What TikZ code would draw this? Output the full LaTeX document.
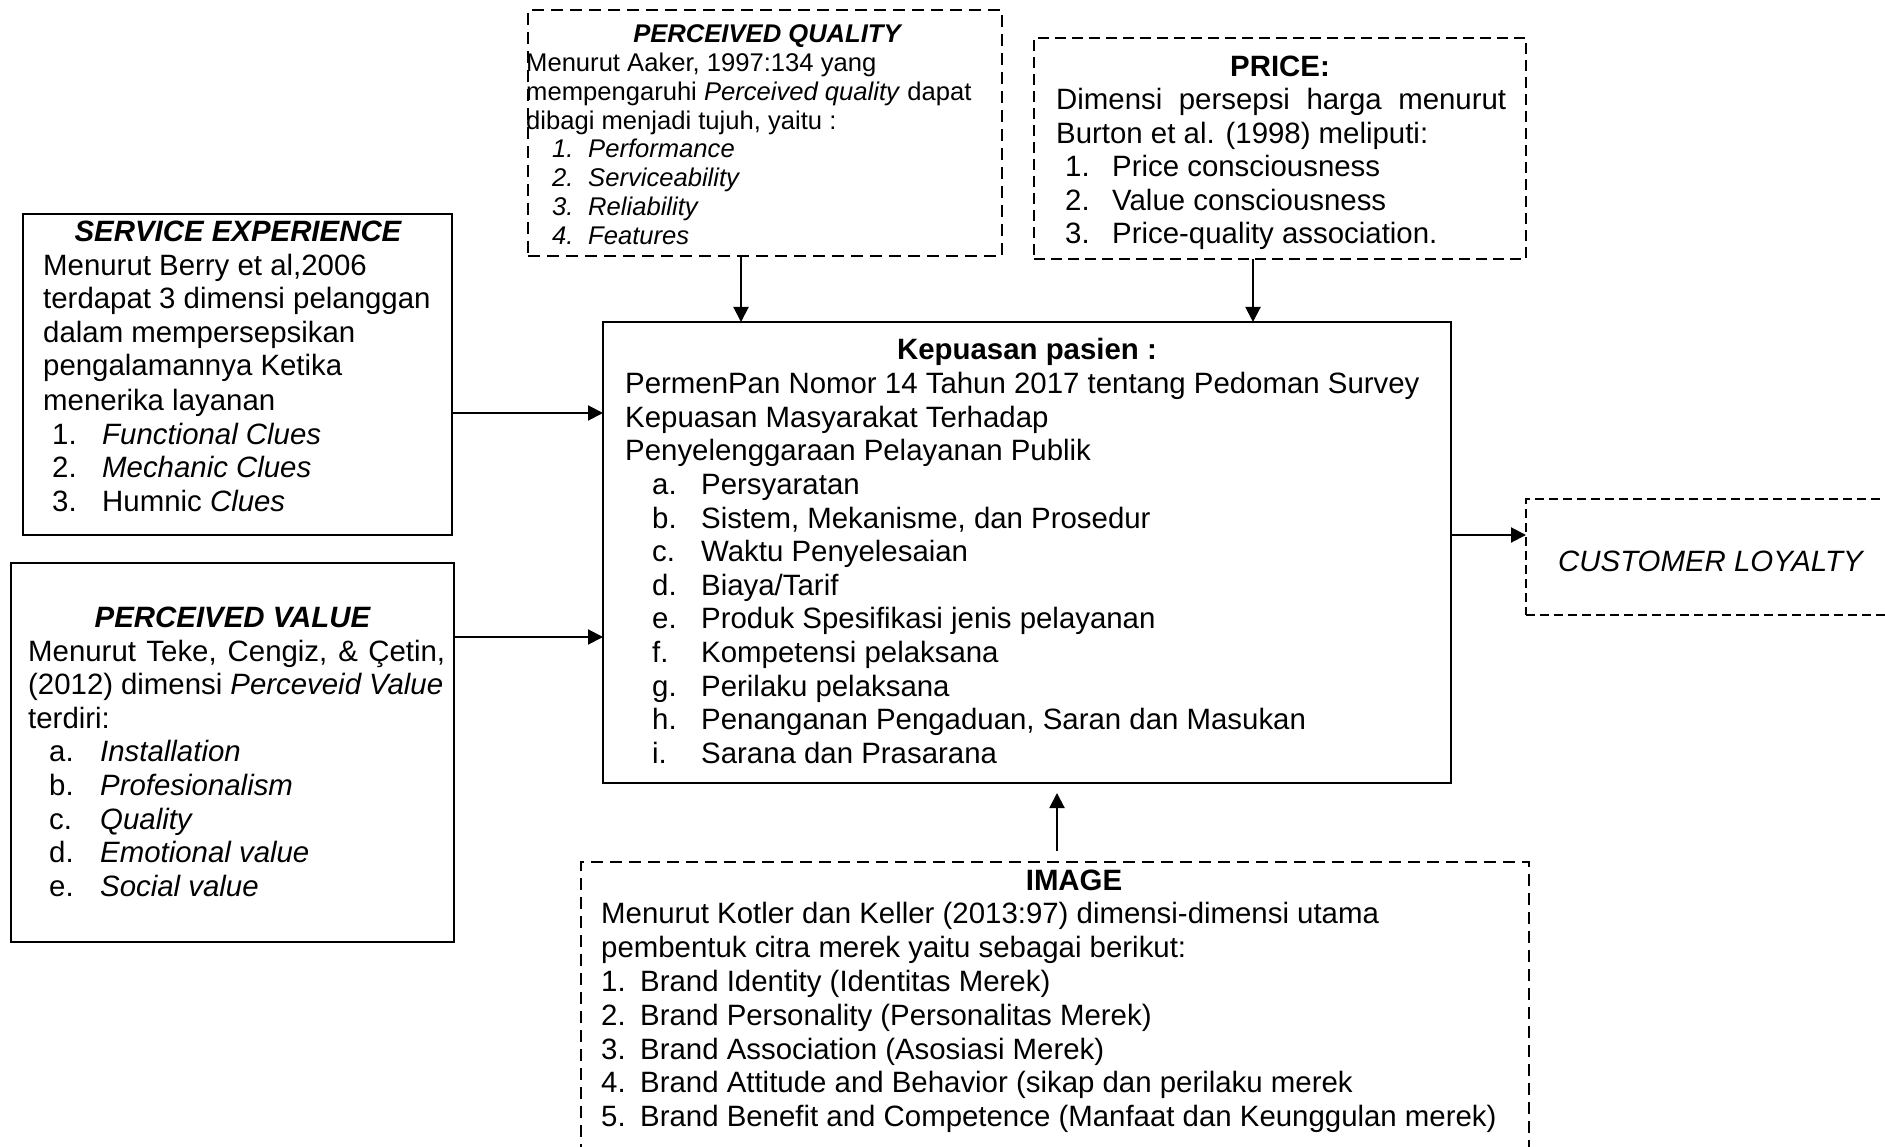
\documentclass[tikz,border=0pt]{standalone}
\usepackage{fontspec}
\setmainfont{Liberation Sans}
\usetikzlibrary{arrows.meta}
\newcommand\fsA{\fontsize{29.4}{34}\selectfont}
\newcommand\fsB{\fontsize{25.6}{29}\selectfont}
\tikzset{
  solidbox/.style={draw, line width=2.2pt, inner sep=0pt, outer sep=0pt, anchor=north west},
  dashbox/.style={draw, line width=2pt, dash pattern=on 12pt off 7pt, inner sep=0pt, outer sep=0pt, anchor=north west},
  thinbox/.style={draw, line width=1.5pt, dash pattern=on 9pt off 5pt, inner sep=0pt, outer sep=0pt, anchor=north west},
  arr/.style={line width=2pt, -{Triangle[length=15pt,width=15pt]}},
  tl/.style={inner sep=0pt, anchor=base west, font=\fsA},
  tc/.style={inner sep=0pt, anchor=base, font=\fsA\bfseries},
  sl/.style={inner sep=0pt, anchor=base west, font=\fsB},
  sc/.style={inner sep=0pt, anchor=base, font=\fsB\bfseries\itshape},
}
\begin{document}
\begin{tikzpicture}[x=1pt,y=-1pt]
\useasboundingbox (0,0) rectangle (1885,1147);
\clip (0,0) rectangle (1885,1147);
\fill[white] (0,0) rectangle (1885,1147);

% boxes
\node[solidbox, minimum width=429pt, minimum height=321pt] (se) at (23,214) {};
\node[solidbox, minimum width=443pt, minimum height=379pt] (pv) at (11,563) {};
\node[solidbox, minimum width=848pt, minimum height=461pt] (main) at (603,322) {};
\node[dashbox, minimum width=474pt, minimum height=246pt] (pq) at (528,10) {};
\node[dashbox, dash pattern=on 11pt off 6pt, minimum width=492pt, minimum height=221pt] (price) at (1034,38) {};
\node[thinbox, minimum width=420pt, minimum height=116pt] (cl) at (1526,499) {};
\node[dashbox, minimum width=948pt, minimum height=330pt] (img) at (581,862) {};

% connectors
\coordinate (a1) at (741,0);
\coordinate (a2) at (1253,0);
\coordinate (a3) at (0,413);
\coordinate (a4) at (0,637);
\coordinate (a5) at (0,535);
\coordinate (a6) at (1057,0);
\draw[arr] (pq.south -| a1) -- (main.north -| a1);
\draw[arr] (price.south -| a2) -- (main.north -| a2);
\draw[arr] (se.east |- a3) -- (main.west |- a3);
\draw[arr] (pv.east |- a4) -- (main.west |- a4);
\draw[arr] (main.east |- a5) -- (cl.west |- a5);
\draw[arr, shorten <=11pt, shorten >=10pt] (img.north -| a6) -- (main.south -| a6);

% SERVICE EXPERIENCE
\node[tc, font=\fsA\bfseries\itshape] (se0) at (238,242) {SERVICE EXPERIENCE};
\node[tl] (se1) at (43,276) {Menurut Berry et al,2006};
\node[tl] (se2) at (43,309) {terdapat 3 dimensi pelanggan};
\node[tl] (se3) at (43,343) {dalam mempersepsikan};
\node[tl] (se4) at (43,376) {pengalamannya Ketika};
\node[tl] (se5) at (43,410) {menerika layanan};
\node[tl] (se6n) at (52,444) {1.};
\node[tl] (se6) at (102,444) {\textit{Functional Clues}};
\node[tl] (se7n) at (52,477) {2.};
\node[tl] (se7) at (102,477) {\textit{Mechanic Clues}};
\node[tl] (se8n) at (52,511) {3.};
\node[tl] (se8) at (102,511) {Humnic \textit{Clues}};

% PERCEIVED VALUE
\node[tc, font=\fsA\bfseries\itshape] (pv0) at (232.5,627) {PERCEIVED VALUE};
\node[tl] (pv1) at (28,661) {\makebox[417pt][s]{Menurut Teke, Cengiz, \& Çetin,}};
\node[tl] (pv2) at (28,694) {\makebox[415pt][s]{(2012) dimensi \textit{Perceveid Value}}};
\node[tl] (pv3) at (28,728) {terdiri:};
\node[tl] (pv4n) at (49,761) {a.};
\node[tl] (pv4) at (100,761) {\textit{Installation}};
\node[tl] (pv5n) at (49,795) {b.};
\node[tl] (pv5) at (100,795) {\textit{Profesionalism}};
\node[tl] (pv6n) at (49,829) {c.};
\node[tl] (pv6) at (100,829) {\textit{Quality}};
\node[tl] (pv7n) at (49,862) {d.};
\node[tl] (pv7) at (100,862) {\textit{Emotional value}};
\node[tl] (pv8n) at (49,896) {e.};
\node[tl] (pv8) at (100,896) {\textit{Social value}};

% MAIN
\node[tc] (m0) at (1027,360) {Kepuasan pasien :};
\node[tl] (m1) at (625,393.6) {PermenPan Nomor 14 Tahun 2017 tentang Pedoman Survey};
\node[tl] (m2) at (625,427.2) {Kepuasan Masyarakat Terhadap};
\node[tl] (m3) at (625,460.8) {Penyelenggaraan Pelayanan Publik};
\node[tl] (m4n) at (652,494.4) {a.};
\node[tl] (m4) at (701,494.4) {Persyaratan};
\node[tl] (m5n) at (652,528) {b.};
\node[tl] (m5) at (701,528) {Sistem, Mekanisme, dan Prosedur};
\node[tl] (m6n) at (652,561.6) {c.};
\node[tl] (m6) at (701,561.6) {Waktu Penyelesaian};
\node[tl] (m7n) at (652,595.2) {d.};
\node[tl] (m7) at (701,595.2) {Biaya/Tarif};
\node[tl] (m8n) at (652,628.8) {e.};
\node[tl] (m8) at (701,628.8) {Produk Spesifikasi jenis pelayanan};
\node[tl] (m9n) at (652,662.4) {f.};
\node[tl] (m9) at (701,662.4) {Kompetensi pelaksana};
\node[tl] (m10n) at (652,696) {g.};
\node[tl] (m10) at (701,696) {Perilaku pelaksana};
\node[tl] (m11n) at (652,729.6) {h.};
\node[tl] (m11) at (701,729.6) {Penanganan Pengaduan, Saran dan Masukan};
\node[tl] (m12n) at (652,763.2) {i.};
\node[tl] (m12) at (701,763.2) {Sarana dan Prasarana};

% PERCEIVED QUALITY
\node[sc] (pq0) at (767,43) {PERCEIVED QUALITY};
\node[sl] (pq1) at (526,72) {Menurut Aaker, 1997:134 yang};
\node[sl] (pq2) at (526,101) {mempengaruhi \textit{Perceived quality} dapat};
\node[sl] (pq3) at (526,130) {dibagi menjadi tujuh, yaitu :};
\node[sl] (pq4n) at (552,158) {\textit{1.}};
\node[sl] (pq4) at (588,158) {\textit{Performance}};
\node[sl] (pq5n) at (552,187) {\textit{2.}};
\node[sl] (pq5) at (588,187) {\textit{Serviceability}};
\node[sl] (pq6n) at (552,216) {\textit{3.}};
\node[sl] (pq6) at (588,216) {\textit{Reliability}};
\node[sl] (pq7n) at (552,245) {\textit{4.}};
\node[sl] (pq7) at (588,245) {\textit{Features}};

% PRICE
\node[tc] (pr0) at (1280,77) {PRICE:};
\node[tl] (pr1) at (1056,110) {\makebox[450pt][s]{Dimensi persepsi harga menurut}};
\node[tl] (pr2) at (1056,143.5) {Burton et al. (1998) meliputi:};
\node[tl] (pr3n) at (1065,177) {1.};
\node[tl] (pr3) at (1112,177) {Price consciousness};
\node[tl] (pr4n) at (1065,210.5) {2.};
\node[tl] (pr4) at (1112,210.5) {Value consciousness};
\node[tl] (pr5n) at (1065,244) {3.};
\node[tl] (pr5) at (1112,244) {Price-quality association.};

% CUSTOMER LOYALTY
\node[tl, font=\fsA\itshape] (cl0) at (1558,571) {CUSTOMER LOYALTY};

% IMAGE
\node[tc] (im0) at (1074,890) {IMAGE};
\node[tl] (im1) at (601,923.8) {Menurut Kotler dan Keller (2013:97) dimensi-dimensi utama};
\node[tl] (im2) at (601,957.6) {pembentuk citra merek yaitu sebagai berikut:};
\node[tl] (im3n) at (601,991.4) {1.};
\node[tl] (im3) at (640,991.4) {Brand Identity (Identitas Merek)};
\node[tl] (im4n) at (601,1025.2) {2.};
\node[tl] (im4) at (640,1025.2) {Brand Personality (Personalitas Merek)};
\node[tl] (im5n) at (601,1059) {3.};
\node[tl] (im5) at (640,1059) {Brand Association (Asosiasi Merek)};
\node[tl] (im6n) at (601,1092.8) {4.};
\node[tl] (im6) at (640,1092.8) {Brand Attitude and Behavior (sikap dan perilaku merek};
\node[tl] (im7n) at (601,1126.6) {5.};
\node[tl] (im7) at (640,1126.6) {Brand Benefit and Competence (Manfaat dan Keunggulan merek)};
\end{tikzpicture}
\end{document}
